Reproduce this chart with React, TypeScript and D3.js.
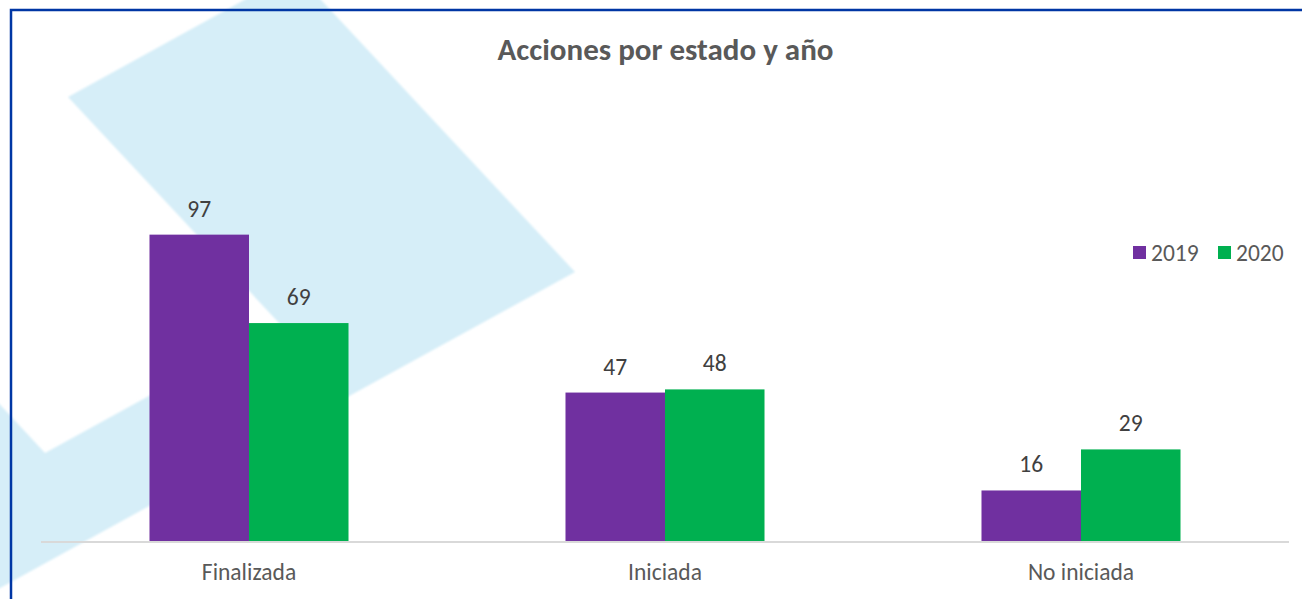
import React, { useEffect, useRef } from 'react'
import * as d3 from 'd3'

const categories = ['Finalizada', 'Iniciada', 'No iniciada']
const years = ['2019', '2020']
const values2019 = [97, 47, 16]
const values2020 = [69, 48, 29]
const colors = ['#7030A0', '#00B050']
const title = 'Acciones por estado y año'

const W = 1302
const H = 599
const FONT = 'Carlito, Calibri, Lato, sans-serif'

export default function App() {
  const svgRef = useRef<SVGSVGElement>(null)

  useEffect(() => {
    if (!svgRef.current) return
    const svg = d3.select(svgRef.current)
    svg.selectAll('*').remove()

    // watermark check shape behind the chart
    svg.append('defs').append('filter')
      .attr('id', 'soft')
      .append('feGaussianBlur')
      .attr('stdDeviation', 1.2)

    const mark: [number, number][] = [
      [-20, 383], [45, 453], [280, 324], [68, 97], [295, -28], [575, 272], [-20, 599]
    ]
    svg.append('path')
      .attr('d', d3.line()(mark) + 'Z')
      .attr('fill', '#D6EEF8')
      .attr('filter', 'url(#soft)')

    // frame
    svg.append('path')
      .attr('d', `M11,${H} L11,10 L${W},10`)
      .attr('fill', 'none')
      .attr('stroke', '#0036A4')
      .attr('stroke-width', 2.5)

    const x0 = d3.scaleBand<string>()
      .domain(categories)
      .range([41, 1289])
      .paddingInner(0.5216)
      .paddingOuter(0.2608)

    const x1 = d3.scaleBand<string>()
      .domain(years)
      .range([0, x0.bandwidth()])

    const y = d3.scaleLinear()
      .domain([0, 120])
      .range([541, 162])

    const rows = categories.map((c, i) => ({
      cat: c,
      vals: [values2019[i], values2020[i]]
    }))

    const groups = svg.selectAll('.grp')
      .data(rows)
      .enter()
      .append('g')
      .attr('class', 'grp')
      .attr('transform', d => `translate(${x0(d.cat)},0)`)

    groups.selectAll('rect')
      .data(d => d.vals.map((v, j) => ({ year: years[j], v, j })))
      .enter()
      .append('rect')
      .attr('x', d => x1(d.year)!)
      .attr('y', d => y(d.v))
      .attr('width', x1.bandwidth())
      .attr('height', d => y(0) - y(d.v))
      .attr('fill', d => colors[d.j])

    groups.selectAll('.val')
      .data(d => d.vals.map((v, j) => ({ year: years[j], v })))
      .enter()
      .append('text')
      .attr('class', 'val')
      .attr('x', d => x1(d.year)! + x1.bandwidth() / 2)
      .attr('y', d => y(d.v) - 18)
      .attr('text-anchor', 'middle')
      .attr('fill', '#404040')
      .style('font-family', FONT)
      .style('font-size', '23.5px')
      .text(d => d.v)

    // baseline
    svg.append('line')
      .attr('x1', 41)
      .attr('x2', 1289)
      .attr('y1', y(0) + 1)
      .attr('y2', y(0) + 1)
      .attr('stroke', '#D9D9D9')
      .attr('stroke-width', 2)

    svg.selectAll('.cat')
      .data(categories)
      .enter()
      .append('text')
      .attr('class', 'cat')
      .attr('x', d => x0(d)! + x0.bandwidth() / 2)
      .attr('y', 580)
      .attr('text-anchor', 'middle')
      .attr('fill', '#595959')
      .style('font-family', FONT)
      .style('font-size', '23.5px')
      .text(d => d)

    svg.append('text')
      .attr('x', 665.5)
      .attr('y', 60)
      .attr('text-anchor', 'middle')
      .attr('fill', '#595959')
      .style('font-family', FONT)
      .style('font-size', '31px')
      .style('font-weight', 'bold')
      .text(title)

    // legend
    const legend = svg.append('g').attr('transform', 'translate(1133,246)')
    const item = legend.selectAll('g')
      .data(years)
      .enter()
      .append('g')
      .attr('transform', (d, i) => `translate(${i * 85},0)`)
    item.append('rect')
      .attr('width', 13)
      .attr('height', 13)
      .attr('fill', (d, i) => colors[i])
    item.append('text')
      .attr('x', 18)
      .attr('y', 15)
      .attr('fill', '#595959')
      .style('font-family', FONT)
      .style('font-size', '23.5px')
      .text(d => d)
  }, [])

  return (
    <svg
      ref={svgRef}
      width={W}
      height={H}
      style={{ position: 'absolute', left: 0, top: 0, background: '#fff' }}
    />
  )
}
